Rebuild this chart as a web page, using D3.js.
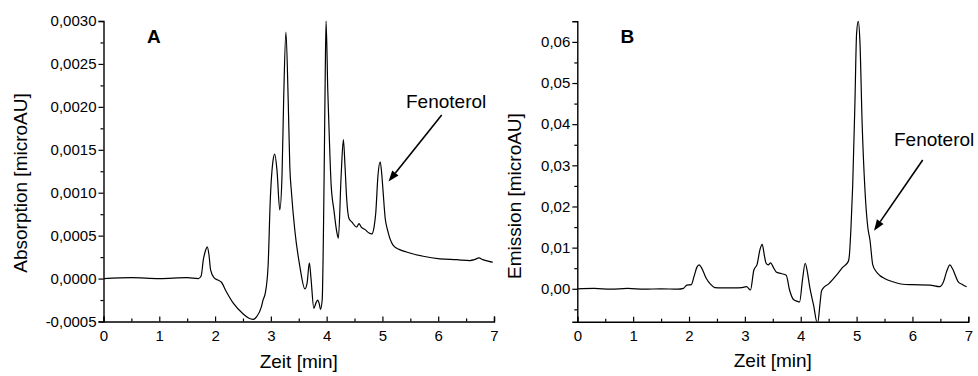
<!DOCTYPE html>
<html>
<head>
<meta charset="utf-8">
<script src="https://cdn.jsdelivr.net/npm/d3@7"></script>
<style>
  html, body { margin: 0; padding: 0; background: #fff; }
  svg { display: block; font-family: "Liberation Sans", Arial, sans-serif; }
</style>
</head>
<body>
<svg id="chart" width="978" height="376"></svg>
<script>
// Panel A: UV absorption chromatogram
const timeA = [0, 0.5, 1.0, 1.5, 1.70, 1.75, 1.79, 1.83, 1.86, 1.89, 1.92, 1.98, 2.06, 2.11, 2.2, 2.33, 2.5, 2.6, 2.68, 2.75, 2.83, 2.86, 2.9, 2.95, 2.99, 3.04, 3.07, 3.11, 3.16, 3.2, 3.23, 3.27, 3.31, 3.34, 3.37, 3.43, 3.52, 3.61, 3.65, 3.69, 3.72, 3.77, 3.81, 3.84, 3.87, 3.89, 3.92, 3.955, 3.975, 3.99, 4.02, 4.05, 4.08, 4.13, 4.18, 4.21, 4.26, 4.30, 4.33, 4.36, 4.40, 4.45, 4.54, 4.58, 4.62, 4.69, 4.76, 4.81, 4.85, 4.88, 4.92, 4.96, 4.99, 5.01, 5.05, 5.09, 5.19, 5.3, 5.43, 5.73, 6.03, 6.33, 6.57, 6.65, 6.73, 6.8, 6.91, 6.98];
const absorption = [0, 0.00001, 0, 0.00001, 0, 0.00003, 0.00022, 0.00033, 0.00037, 0.00028, 0.0001, 0.00001, -0.00002, -0.00004, -0.00015, -0.00029, -0.00041, -0.00046, -0.000476, -0.00044, -0.00033, -0.00025, -0.00017, 0.00014, 0.00092, 0.00138, 0.00145, 0.00126, 0.0008, 0.0012, 0.0021, 0.00287, 0.0021, 0.0013, 0.001, 0.00056, 0.00014, -0.00012, -0.00005, 0.000184, 0, -0.000347, -0.00028, -0.00025, -0.0003, -0.00036, -0.00025, 0.0012, 0.0024, 0.0030, 0.0022, 0.0016, 0.0011, 0.0008, 0.00055, 0.00047, 0.0012, 0.00162, 0.0013, 0.00092, 0.0007, 0.00066, 0.0006, 0.00064, 0.0006, 0.00057, 0.00053, 0.00052, 0.0006, 0.00076, 0.0012, 0.00136, 0.0012, 0.00103, 0.0007, 0.00057, 0.00039, 0.00034, 0.00031, 0.00026, 0.00023, 0.00022, 0.00021, 0.00022, 0.00024, 0.00022, 0.0002, 0.00019];

// Panel B: fluorescence emission chromatogram
const timeB = [0, 0.3, 0.6, 0.9, 1.2, 1.5, 1.8, 1.9, 1.96, 2.04, 2.09, 2.14, 2.18, 2.22, 2.31, 2.38, 2.46, 2.6, 2.8, 2.95, 3.03, 3.1, 3.16, 3.22, 3.27, 3.31, 3.35, 3.38, 3.42, 3.46, 3.51, 3.56, 3.65, 3.74, 3.8, 3.87, 3.93, 3.98, 4.03, 4.08, 4.12, 4.16, 4.23, 4.30, 4.35, 4.37, 4.40, 4.5, 4.64, 4.75, 4.85, 4.87, 4.90, 4.93, 4.97, 5.00, 5.03, 5.06, 5.10, 5.15, 5.20, 5.24, 5.29, 5.35, 5.41, 5.5, 5.65, 5.83, 6.0, 6.31, 6.49, 6.55, 6.62, 6.67, 6.72, 6.82, 6.9, 6.97];
const emission = [0, 0.0001, -0.0001, 0.0001, -0.0001, 0, -0.0001, 0.0001, 0.0009, 0.001, 0.003, 0.0052, 0.0058, 0.0052, 0.0025, 0.0012, 0.0003, 0.0002, 0.0002, 0.0003, 0.0005, -0.0003, 0.0045, 0.006, 0.0095, 0.0108, 0.008, 0.0062, 0.0058, 0.0063, 0.0052, 0.0041, 0.0037, 0.0033, -0.0003, -0.0026, -0.003, -0.0032, 0.002, 0.0062, 0.004, 0.0005, -0.004, -0.0085, -0.003, -0.0007, 0.0001, 0.0012, 0.0033, 0.0052, 0.0066, 0.008, 0.015, 0.025, 0.045, 0.062, 0.065, 0.060, 0.040, 0.024, 0.015, 0.0118, 0.0058, 0.0042, 0.0033, 0.0025, 0.0017, 0.0011, 0.001, 0.0009, 0.0005, 0.0015, 0.0045, 0.0058, 0.0048, 0.0017, 0.001, 0.0005];

// Axis ticks
const xTicks = [0, 1, 2, 3, 4, 5, 6, 7];
const xMinor = [0.5, 1.5, 2.5, 3.5, 4.5, 5.5, 6.5];
const yTicksA = [-0.0005, 0, 0.0005, 0.0010, 0.0015, 0.0020, 0.0025, 0.0030];
const yMinorA = [-0.00025, 0.00025, 0.00075, 0.00125, 0.00175, 0.00225, 0.00275];
const yTicksB = [0, 0.01, 0.02, 0.03, 0.04, 0.05, 0.06];
const yMinorB = [-0.005, 0.005, 0.015, 0.025, 0.035, 0.045, 0.055];

const svg = d3.select("#chart");
const comma = (fmt) => (d) => d3.format(fmt)(d).replace(".", ",").replace("−", "-");

function panel(cfg) {
  const x = d3.scaleLinear().domain([0, 7]).range([cfg.left, cfg.right]);
  const y = d3.scaleLinear().domain(cfg.yDomain).range([cfg.bottom, cfg.top]);
  const g = svg.append("g");

  const clipId = "clip-" + cfg.id;
  svg.append("clipPath").attr("id", clipId)
    .append("rect")
    .attr("x", cfg.left).attr("y", cfg.top - 1)
    .attr("width", cfg.right - cfg.left + 2).attr("height", cfg.bottom - cfg.top + 1);

  const line = d3.line()
    .x((d, i) => x(cfg.t[i]))
    .y(d => y(d))
    .curve(d3.curveMonotoneX);

  g.append("path")
    .datum(cfg.v)
    .attr("clip-path", `url(#${clipId})`)
    .attr("fill", "none")
    .attr("stroke", "#000")
    .attr("stroke-width", 1.2)
    .attr("stroke-linejoin", "round")
    .attr("d", line);

  // x axis: ticks point inward
  g.append("g").attr("transform", `translate(0,${cfg.bottom})`)
    .call(d3.axisBottom(x).tickValues(xTicks).tickSize(-5).tickPadding(9).tickFormat(d3.format("d")));
  g.append("g").attr("transform", `translate(0,${cfg.bottom})`)
    .call(d3.axisBottom(x).tickValues(xMinor).tickSize(-3).tickFormat(""))
    .call(s => s.select(".domain").remove());

  // y axis: ticks point outward
  g.append("g").attr("transform", `translate(${cfg.left},0)`)
    .call(d3.axisLeft(y).tickValues(cfg.yTicks).tickSize(5).tickPadding(2).tickFormat(comma(cfg.fmt)));
  g.append("g").attr("transform", `translate(${cfg.left},0)`)
    .call(d3.axisLeft(y).tickValues(cfg.yMinor).tickSize(3).tickFormat(""))
    .call(s => s.select(".domain").remove());

  g.selectAll(".domain").attr("stroke", "#000").attr("stroke-width", 1.4);
  g.selectAll(".tick line").attr("stroke", "#000").attr("stroke-width", 1.2);
  g.selectAll(".tick text").attr("fill", "#000").style("font-size", "15px")
    .style("font-family", "Liberation Sans, Arial, sans-serif");

  // axis titles
  g.append("text")
    .attr("x", (cfg.left + cfg.right) / 2).attr("y", cfg.xTitleY)
    .attr("text-anchor", "middle").style("font-size", "19px")
    .text("Zeit [min]");
  g.append("text")
    .attr("transform", `translate(${cfg.yTitleX},${cfg.yTitleY}) rotate(-90)`)
    .attr("text-anchor", "middle").style("font-size", "19px")
    .text(cfg.yTitle);

  // panel letter
  g.append("text")
    .attr("x", cfg.letterX).attr("y", 43)
    .style("font-size", "19px").style("font-weight", "bold")
    .text(cfg.letter);

  // peak annotation with arrow
  g.append("text")
    .attr("x", cfg.labelX).attr("y", cfg.labelY)
    .style("font-size", "19px")
    .text("Fenoterol");

  const [x1, y1, x2, y2] = cfg.arrow;
  const ang = Math.atan2(y2 - y1, x2 - x1);
  const len = 11, half = 4;
  const bx = x2 - len * Math.cos(ang), by = y2 - len * Math.sin(ang);
  g.append("line")
    .attr("x1", x1).attr("y1", y1).attr("x2", bx).attr("y2", by)
    .attr("stroke", "#000").attr("stroke-width", 1.6);
  g.append("path")
    .attr("d", `M${x2},${y2} L${bx - half * Math.sin(ang)},${by + half * Math.cos(ang)} L${bx + half * Math.sin(ang)},${by - half * Math.cos(ang)} Z`)
    .attr("fill", "#000");
}

panel({
  id: "a", letter: "A",
  t: timeA, v: absorption,
  left: 103.5, right: 494, top: 21, bottom: 321.5,
  yDomain: [-0.0005, 0.0030], yTicks: yTicksA, yMinor: yMinorA, fmt: ".4f",
  yTitle: "Absorption [microAU]", yTitleX: 27, yTitleY: 183,
  xTitleY: 368,
  letterX: 147,
  labelX: 406, labelY: 108,
  arrow: [441.7, 115, 388.5, 181.5]
});

panel({
  id: "b", letter: "B",
  t: timeB, v: emission,
  left: 577.3, right: 968.3, top: 21.3, bottom: 321.7,
  yDomain: [-0.008, 0.065], yTicks: yTicksB, yMinor: yMinorB, fmt: ".2f",
  yTitle: "Emission [microAU]", yTitleX: 521, yTitleY: 196,
  xTitleY: 367,
  letterX: 620.5,
  labelX: 894, labelY: 146,
  arrow: [922.7, 160, 874, 230.7]
});
</script>
</body>
</html>
